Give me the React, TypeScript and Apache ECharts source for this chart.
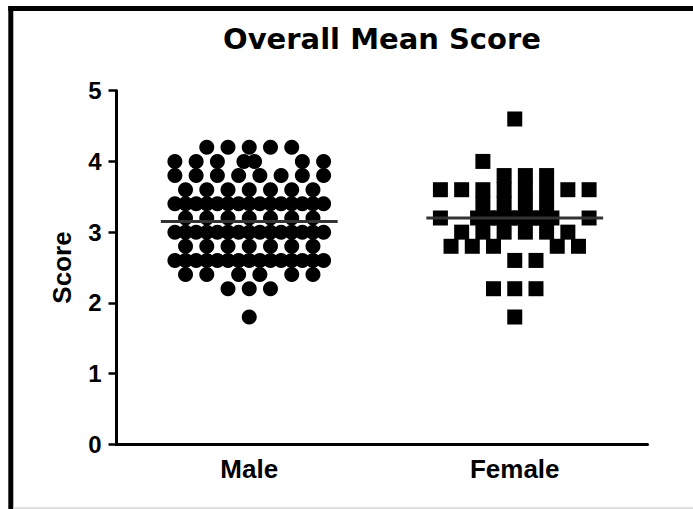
import React, { useEffect, useRef } from 'react';
import * as echarts from 'echarts';

// Categories and tick labels
const categories = ['Male', 'Female'];
const yTickMax = 5;

// Scores (one entry per row of dots) and the column slots each row's dots occupy
const maleScores = [4.2, 4.0, 3.8, 3.6, 3.4, 3.2, 3.0, 2.8, 2.6, 2.4, 2.2, 1.8];
const maleSlots = [
  [-4, -2, 0, 2, 4],
  [-7, -5, -3, -0.5, 0.5, 5, 7],
  [-7, -5, -3, -1, 1, 3, 5, 7],
  [-6, -4, -2, 0, 2, 4, 6],
  [-7, -6, -5, -4, -3, -2, -1, 0, 1, 2, 3, 4, 5, 6, 7],
  [-6, -4, -2, 0, 2, 4, 6],
  [-7, -6, -5, -4, -3, -2, -1, 0, 1, 2, 3, 4, 5, 6, 7],
  [-6, -4, -2, 0, 2, 4, 6],
  [-7, -6, -5, -4, -3, -2, -1, 0, 1, 2, 3, 4, 5, 6, 7],
  [-6, -4, -1, 1, 4, 6],
  [-2, 0, 2],
  [0],
];

const femaleScores = [4.6, 4.0, 3.8, 3.6, 3.4, 3.2, 3.0, 2.8, 2.6, 2.2, 1.8];
const femaleSlots = [
  [0],
  [-3],
  [-1, 1, 3],
  [-7, -5, -3, -1, 1, 3, 5, 7],
  [-3, -1, 1, 3],
  [-7, -3.5, -2.5, -1.5, -0.5, 0.5, 1.5, 2.5, 3.5, 7],
  [-5, -3, -1, 1, 3, 5],
  [-6, -4, -2, 4, 6],
  [0, 2],
  [-2, 0, 2],
  [0],
];

// Group means (horizontal lines)
const groupMeans = [3.15, 3.2];

const SLOT = 0.04; // value-axis units per column slot
const MEAN_HALF = 0.333;

function buildPoints(center: number, scores: number[], slots: number[][]) {
  const pts: number[][] = [];
  scores.forEach((s, i) => {
    slots[i].forEach((k) => pts.push([center + k * SLOT, s]));
  });
  return pts;
}

export default function App() {
  const ref = useRef<HTMLDivElement>(null);

  useEffect(() => {
    if (!ref.current) return;
    const chart = echarts.init(ref.current, null, { renderer: 'svg' });
    const font = 'Liberation Sans';
    const centers = categories.map((_, i) => i + 0.5);

    const option: any = {
      animation: false,
      backgroundColor: '#fff',
      grid: { left: 116.5, top: 90.7, width: 531, height: 353.6, containLabel: false },
      graphic: [
        {
          type: 'line',
          shape: { x1: 10.8, y1: 6, x2: 10.8, y2: 509 },
          style: { stroke: '#000', lineWidth: 5 },
          silent: true,
        },
        {
          type: 'line',
          shape: { x1: 8.3, y1: 8.4, x2: 693, y2: 8.4 },
          style: { stroke: '#000', lineWidth: 5 },
          silent: true,
        },
        {
          type: 'line',
          shape: { x1: 13, y1: 508, x2: 693, y2: 508 },
          style: { stroke: '#d4d4d4', lineWidth: 1.5 },
          silent: true,
        },
        {
          type: 'text',
          x: 382,
          y: 38.5,
          style: {
            text: 'Overall Mean Score',
            font: 'bold 29px "DejaVu Sans"',
            fill: '#000',
            textAlign: 'center',
            textVerticalAlign: 'middle',
          },
          silent: true,
        },
      ],
      xAxis: [
        {
          type: 'category',
          data: categories,
          boundaryGap: true,
          axisLine: { lineStyle: { color: '#000', width: 3 } },
          axisTick: { alignWithLabel: true, length: 9, lineStyle: { color: '#000', width: 3 } },
          axisLabel: { color: '#000', fontFamily: font, fontWeight: 'bold', fontSize: 26, margin: 12 },
          splitLine: { show: false },
        },
        { type: 'value', min: 0, max: 2, show: false },
      ],
      yAxis: {
        type: 'value',
        min: 0,
        max: yTickMax,
        interval: 1,
        name: 'Score',
        nameLocation: 'middle',
        nameGap: 42,
        nameTextStyle: { color: '#000', fontFamily: font, fontWeight: 'bold', fontSize: 26 },
        axisLine: { show: true, lineStyle: { color: '#000', width: 3 } },
        axisTick: { show: true, length: 8, lineStyle: { color: '#000', width: 2.5 } },
        axisLabel: { color: '#000', fontFamily: font, fontWeight: 'bold', fontSize: 24, margin: 15 },
        splitLine: { show: false },
      },
      series: [
        {
          name: categories[0],
          type: 'scatter',
          xAxisIndex: 1,
          symbol: 'circle',
          symbolSize: 15,
          itemStyle: { color: '#000', opacity: 1 },
          data: buildPoints(centers[0], maleScores, maleSlots),
          z: 2,
        },
        {
          name: categories[1],
          type: 'scatter',
          xAxisIndex: 1,
          symbol: 'rect',
          symbolSize: 15,
          itemStyle: { color: '#000', opacity: 1 },
          data: buildPoints(centers[1], femaleScores, femaleSlots),
          z: 2,
        },
        ...groupMeans.map((m, i) => ({
          type: 'line',
          xAxisIndex: 1,
          symbol: 'none',
          silent: true,
          lineStyle: { color: '#333', width: 3 },
          data: [
            [centers[i] - MEAN_HALF, m],
            [centers[i] + MEAN_HALF, m],
          ],
          z: 5,
        })),
      ],
    };

    chart.setOption(option);
    return () => chart.dispose();
  }, []);

  return (
    <div
      ref={ref}
      style={{ position: 'fixed', left: 0, top: 0, width: 693, height: 509, background: '#fff' }}
    />
  );
}
